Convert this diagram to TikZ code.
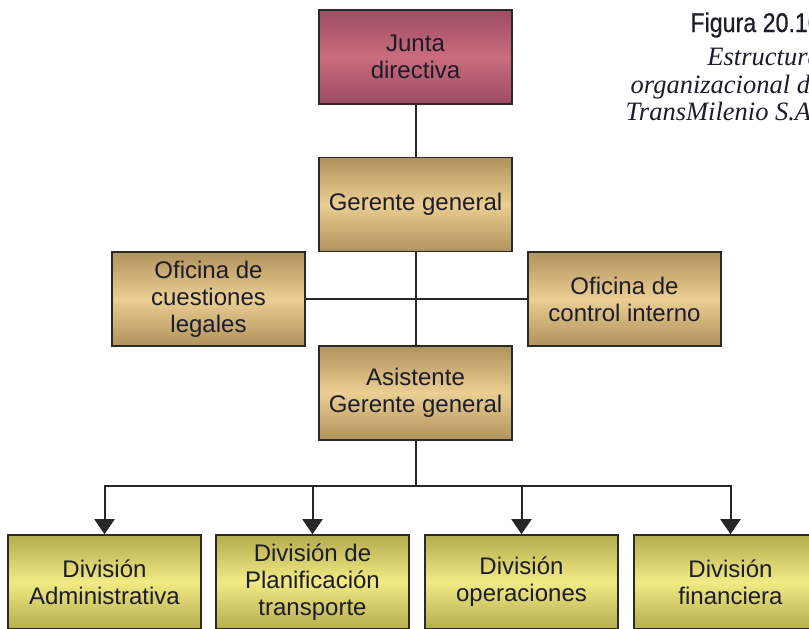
\documentclass[tikz,border=0pt]{standalone}
\usepackage{fontspec}
\setmainfont{Liberation Sans}
\newfontfamily\condfont[FakeStretch=0.86,FakeBold=0.6]{Liberation Sans}
\newfontfamily\capserif{Liberation Serif}
\usetikzlibrary{arrows.meta}
\definecolor{txt}{HTML}{1C1C2A}
\definecolor{bordc}{HTML}{2A2A2A}
\definecolor{juntaE}{HTML}{9C4C62}
\definecolor{juntaC}{HTML}{CA6C7E}
\definecolor{tanE}{HTML}{B0925C}
\definecolor{tanC}{HTML}{EBCE92}
\definecolor{yelE}{HTML}{B4AC4E}
\definecolor{yelC}{HTML}{F2EA84}
\tikzset{
  box/.style={draw=bordc, line width=1.6pt, minimum width=193pt, minimum height=94pt,
    inner sep=2pt, align=center, text=txt, font=\fontsize{24}{27}\selectfont, shading=axis},
  juntabox/.style={box, top color=juntaE, bottom color=juntaE, middle color=juntaC},
  tanbox/.style={box, top color=tanE, bottom color=tanE, middle color=tanC},
  yelbox/.style={box, top color=yelE, bottom color=yelE, middle color=yelC},
  captxt/.style={anchor=base east, inner sep=0, text=txt, font=\capserif\itshape\fontsize{26.5}{27}\selectfont},
  conn/.style={draw=black!85, line width=2pt},
  arr/.style={conn, -{Triangle[width=20pt,length=15pt]}}
}
\begin{document}
\begin{tikzpicture}[x=1pt,y=-1pt]
\useasboundingbox (0,0) rectangle (809,629);
\clip (0,0) rectangle (809,629);
\fill[white] (0,0) rectangle (809,629);

% caption (cut at the right edge, as in the reference)
\node[anchor=base east, inner sep=0, font=\condfont\fontsize{27}{27}\selectfont, text=txt] (fig) at (821,32) {Figura 20.10};
\node[captxt] (cap1) at (821,65) {Estructura};
\node[captxt] (cap2) at (822,93) {organizacional de};
\node[captxt] (cap3) at (818,120) {TransMilenio S.A.};

% nodes
\node[juntabox] (junta) at (415.5,57) {Junta\\directiva};
\node[tanbox] (gerente) at (415.5,204.5) {Gerente general};
\node[tanbox] (legales) at (208.5,299) {Oficina de\\cuestiones\\legales};
\node[tanbox] (control) at (624.5,299) {Oficina de\\control interno};
\node[tanbox] (asist) at (415.5,393) {Asistente\\Gerente general};
\node[yelbox] (admin) at (104.5,582) {División\\Administrativa};
\node[yelbox] (plan) at (312.5,582) {División de\\Planificación\\transporte};
\node[yelbox] (oper) at (521.5,582) {División\\operaciones};
\node[yelbox] (fin) at (730.5,582) {División\\financiera};

% connectors
\draw[conn] (junta.south) -- (gerente.north);
\draw[conn] (gerente.south) -- (asist.north);
\draw[conn] (legales.east) -- (control.west);
\coordinate (bus) at (415.5,486);
\draw[conn] (asist.south) -- (bus);
\draw[arr] (bus) -| (admin.north);
\draw[arr] (bus) -| (plan.north);
\draw[arr] (bus) -| (oper.north);
\draw[arr] (bus) -| (fin.north);
\end{tikzpicture}
\end{document}
